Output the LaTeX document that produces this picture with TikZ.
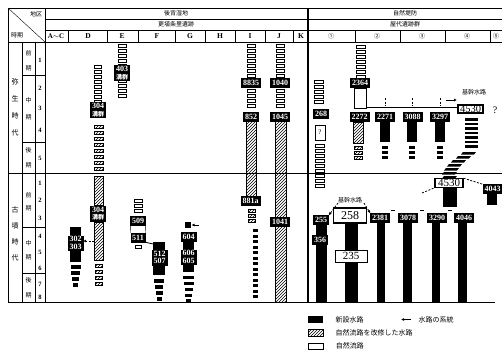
\documentclass[tikz,border=0pt]{standalone}
\usepackage{fontspec}
\setmainfont{Liberation Serif}
\newfontfamily\jp{Noto Sans CJK JP}
\usetikzlibrary{arrows.meta,patterns,positioning}

\begin{document}
\begin{tikzpicture}[x=1pt, y=-1pt,
  font=\fontsize{7}{8}\selectfont,
  lab/.style={draw, fill=black, text=white, inner xsep=1.5pt, inner ysep=0.8pt,
    minimum height=9pt, align=center, font=\fontsize{8}{7.5}\selectfont\bfseries},
  wlab/.style={draw, line width=1.2pt, fill=white, inner xsep=2pt, inner ysep=0.5pt,
    font=\fontsize{10}{10}\selectfont},
  nat/.style={draw, fill=white, line width=0.5pt},
  hat/.style={draw, pattern=north east lines},
  arr/.style={-{Latex[length=3pt,width=3pt]}, thick},
  darr/.style={-{Latex[length=3pt,width=3pt]}, thick, dash pattern=on 2pt off 1.5pt},
  jsmall/.style={font=\jp\fontsize{6}{6}\selectfont},
  jera/.style={font=\jp\fontsize{7}{7}\selectfont}
]
\useasboundingbox (0,0) rectangle (502,350);

% table frame
\draw[line width=0.8pt] (8,302) -- (8,8) -- (502,8);
\draw (45,19) -- (502,19);
\draw (45,30) -- (502,30);
\draw[line width=0.8pt] (8,42) -- (502,42);
\draw (8,8) -- (45,42);
\draw (45,8) -- (45,302);
\draw (22,42) -- (22,302);
\draw (35,42) -- (35,302);
\foreach \y in {75,142,227,273} \draw (22,\y) -- (45,\y);
\draw[line width=0.8pt] (8,173) -- (502,173);
\draw[line width=0.8pt] (8,302) -- (495,302);
\draw[line width=1.3pt] (308,8) -- (308,302);
\foreach \x in {68,107,138,175,205,235,265,293,355,400,445,490} \draw (\x,30) -- (\x,42);

% headings
\node[jsmall] (area) at (36,14) {地区};
\node[jsmall] (period) at (17,35) {時期};
\node[jsmall] (grp1) at (176,13.5) {後背湿地};
\node[jsmall] (site1) at (176,24.5) {更埴条里遺跡};
\node[jsmall] (grp2) at (405,13.5) {自然堤防};
\node[jsmall] (site2) at (405,24.5) {屋代遺跡群};
\foreach \x/\t in {88/D,122/E,157/F,190/G,220/H,250/I,279/J,301/K}
  \node[font=\fontsize{7.5}{7.5}\selectfont\bfseries] (col\t) at (\x,36.5) {\t};
\node[font=\fontsize{7}{7}\selectfont\bfseries] (colA) at (56,36.5) {A$\sim$C};
\foreach \x/\t [count=\i] in {331/①,377/②,422/③,467/④,496/⑤}
  \node[jsmall] (zone\i) at (\x,36.5) {\t};

% periods
\foreach \c [count=\i] in {弥,生,時,代} \node[jera] at (15,{65+17*\i}) {\c};
\foreach \c [count=\i] in {古,墳,時,代} \node[jera] at (15,{194+16*\i}) {\c};
\foreach \c/\y in {前/53,期/68,中/100,期/117,後/150,期/165,前/195,期/208,中/243,期/257,後/280,期/295}
  \node[jsmall] at (28.5,\y) {\c};
\foreach \n/\y in {1/60,2/88,3/108,4/130,5/158,1/183,2/200,3/218,4/236,5/252,6/268,7/284,8/297}
  \node[font=\fontsize{6.5}{6.5}\selectfont\bfseries] at (40,\y) {\n};

% D
\foreach \y in {65,70,...,100} \draw[nat] (94,\y) rectangle (101,\y+3);
\foreach \y in {125,131,...,170} \draw[hat] (94,\y) rectangle (103,\y+3.5);
\draw[hat] (94,176) rectangle (103,205);
\draw[hat] (94,222) rectangle (103,260);
\foreach \y in {264,270,276,282} \draw[hat] (95,\y) rectangle (102,\y+3.5);
\node[lab] (d304a) at (98,110) {304\\{\jp\fontsize{6}{6}\selectfont 溝群}};
\node[lab] (d304b) at (98,213.5) {304\\{\jp\fontsize{6}{6}\selectfont 溝群}};
\fill (70,227) rectangle (81,262);
\foreach \y/\w in {265/5,271/4.5,277/3.5,283/2.5} \fill (75.5-\w,\y) rectangle (75.5+\w,\y+3.5);
\node[lab] (d302) at (75.5,243) {302\\303};
\coordinate (dbar) at (94,241);
\draw[darr] (dbar) -- (d302.east |- dbar);

% E
\foreach \y in {44,49,...,94} \draw[nat] (118,\y) rectangle (126,\y+3);
\node[lab] (e403) at (122,73) {403\\{\jp\fontsize{6}{6}\selectfont 溝群}};
\foreach \y in {199,204,209} \draw[nat] (134,\y) rectangle (142,\y+3);
\node[lab] (e509) at (138,220.5) {509};
\node[lab] (e511) at (138,237.5) {511};
\draw (e509.south west) -- (e511.north west);
\draw (e509.south east) -- (e511.north east);
\draw[nat] (135,245) rectangle (141,248);

% F
\fill (153,242) rectangle (165,275);
\foreach \y/\w in {279/5,285/4,291/3.5,297/2.5} \fill (159-\w,\y) rectangle (159+\w,\y+3.5);
\node[lab] (f512) at (159.5,257.5) {512\\507};
\coordinate (fin) at (153,244);
\draw[thick] (e511.south east) -- (fin);

% G
\fill (185,222) rectangle (191,228);
\coordinate (gin) at (199,225);
\coordinate (gto) at (191.5,225);
\draw[arr] (gin) -- (gto);
\fill (183,241) rectangle (194,272);
\foreach \y/\w in {276/5.5,282/5,288/4,294/3.5,299/2.5} \fill (188.5-\w,\y) rectangle (188.5+\w,\y+3);
\node[lab] (g604) at (188.5,237) {604};
\node[lab] (g606) at (188.5,257) {606\\605};

% I
\foreach \y in {44,49,...,104} \draw[nat] (247,\y) rectangle (255,\y+3);
\draw[hat] (246,121) rectangle (256,196);
\foreach \y in {209,214,219} \draw[hat] (248,\y) rectangle (255,\y+3);
\foreach \y in {229,234.5,...,299} \fill (253,\y) rectangle (258,\y+3);
\node[lab] (i8835) at (251,83) {8835};
\node[lab] (i852) at (251,116.5) {852};
\node[lab] (i881) at (250.5,201) {881a};

% J
\foreach \y in {44,49,...,104} \draw[nat] (276,\y) rectangle (284,\y+3);
\draw[hat] (275,121) rectangle (286,302);
\node[lab] (j1040) at (280,83) {1040};
\node[lab] (j1045) at (280,116.5) {1045};
\node[lab] (j1041) at (280,222) {1041};

% zone 1
\foreach \y in {80,85,...,104} \draw[nat] (314,\y) rectangle (323,\y+3);
\node[lab] (a268) at (321,114) {268};
\node[nat, minimum width=10pt, minimum height=15pt, inner sep=0pt] (aq) at (320,132.5) {?};
\foreach \y in {144,149,...,186} \draw[nat] (315,\y) rectangle (324,\y+3);
\fill (316,215) rectangle (327,302);
\node[lab] (a255) at (321,220) {255};
\node[lab] (a356) at (320,240) {356};

% zone 2-4, Yayoi
\foreach \y in {45,50,...,75} \draw[nat] (356,\y) rectangle (365,\y+3);
\node[lab] (b2364) at (360,83) {2364};
\draw[nat] (354,88) rectangle (366,108);
\draw[hat] (353,122) rectangle (363,143);
\foreach \y in {146,151,156} \draw[hat] (354,\y) rectangle (362,\y+3);
\foreach \x in {385,412,440} {
  \fill (\x-5,122) rectangle (\x+5,142);
  \foreach \y in {146,151,156} \fill (\x-3,\y) rectangle (\x+3,\y+3);
  \draw[thick, dash pattern=on 2pt off 1.5pt] (\x,98) -- (\x,106);
}
\node[lab] (b2272) at (359.5,117) {2272};
\node[lab] (b2271) at (385,117) {2271};
\node[lab] (c3088) at (412.5,117) {3088};
\node[lab] (c3297) at (440,117) {3297};
\node[wlab, font=\fontsize{10.5}{10.5}\selectfont] (e4530a) at (470.5,109) {4530};
\node[font=\fontsize{10}{10}\selectfont] (eq) at (495,110) {?};
\node[jsmall] (trunk1) at (474,92) {基幹水路};
\coordinate (tr) at (366,107);
\draw[thick] (tr) -- (tr -| e4530a.west);
\coordinate (ta) at (446,100);
\coordinate (tb) at (457,100);
\draw[arr] (ta) -- (tb);

% trunk stairs
\foreach \y in {118,122.5,...,148} \fill (465,\y) rectangle (478,\y+2.5);
\foreach \x/\y in {461/152,456/156,451/160,447/164,444/168,442/172,442/176}
  \fill (\x,\y+2.5) -- (\x+2,\y) -- (\x+15,\y) -- (\x+13,\y+2.5) -- cycle;

% zone 2-5, Kofun
\fill (443,188) rectangle (457,207);
\fill (487,193) rectangle (497,205);
\node[wlab, font=\fontsize{11}{11}\selectfont, inner xsep=3pt] (e4530b) at (449,183) {4530};
\node[lab] (e4043) at (492.5,189) {4043};
\coordinate (ew) at (422,193);
\draw[thick, dash pattern=on 2pt off 1.5pt] (ew) -- (e4530b.south west);
\draw[thick, dash pattern=on 2pt off 1.5pt] (e4530b.north east) -- (e4043.north west);

\fill (345,223) rectangle (358,302);
\foreach \x/\w in {381/4,407.5/4.5,436/4,462.5/4.5} \fill (\x-\w,223) rectangle (\x+\w,302);
\node[jsmall] (trunk2) at (350,200) {基幹水路};
\node[wlab, font=\fontsize{12}{12}\selectfont, minimum width=33pt, minimum height=15pt] (f258) at (350,215.5) {258};
\node[wlab, line width=0.8pt, font=\fontsize{11}{11}\selectfont, minimum width=32pt, minimum height=12pt] (f235) at (351,256) {235};
\node[lab] (b2381) at (380,218) {2381};
\node[lab] (c3078) at (408,218) {3078};
\node[lab] (c3290) at (437,218) {3290};
\node[lab] (d4046) at (464,218) {4046};
\foreach \x in {393,422,450} \draw[thick] (\x-2,210) -- (\x+2,210);
\coordinate (fl) at (338,203);
\coordinate (fr) at (364,203);
\draw[darr] (fl) -- (a255.north east);
\draw[darr] (fr) -- (b2381.north west);

% legend
\node[fill=black, minimum width=15pt, minimum height=7pt, inner sep=0pt] (k1) at (315.5,319.5) {};
\node[hat, minimum width=15pt, minimum height=7pt, inner sep=0pt] (k2) at (315.5,333) {};
\node[nat, minimum width=15pt, minimum height=6pt, inner sep=0pt] (k3) at (315.5,346) {};
\node[font=\jp\fontsize{7}{7}\selectfont, right=9pt of k1] (t1) {新設水路};
\node[font=\jp\fontsize{7}{7}\selectfont, right=9pt of k2] (t2) {自然流路を改修した水路};
\node[font=\jp\fontsize{7}{7}\selectfont, right=9pt of k3] (t3) {自然流路};
\coordinate (ka) at (411,319.5);
\coordinate (kb) at (401,319.5);
\draw[arr] (ka) -- (kb);
\node[font=\jp\fontsize{7}{7}\selectfont, right=4pt of ka] (t4) {水路の系統};
\end{tikzpicture}
\end{document}
